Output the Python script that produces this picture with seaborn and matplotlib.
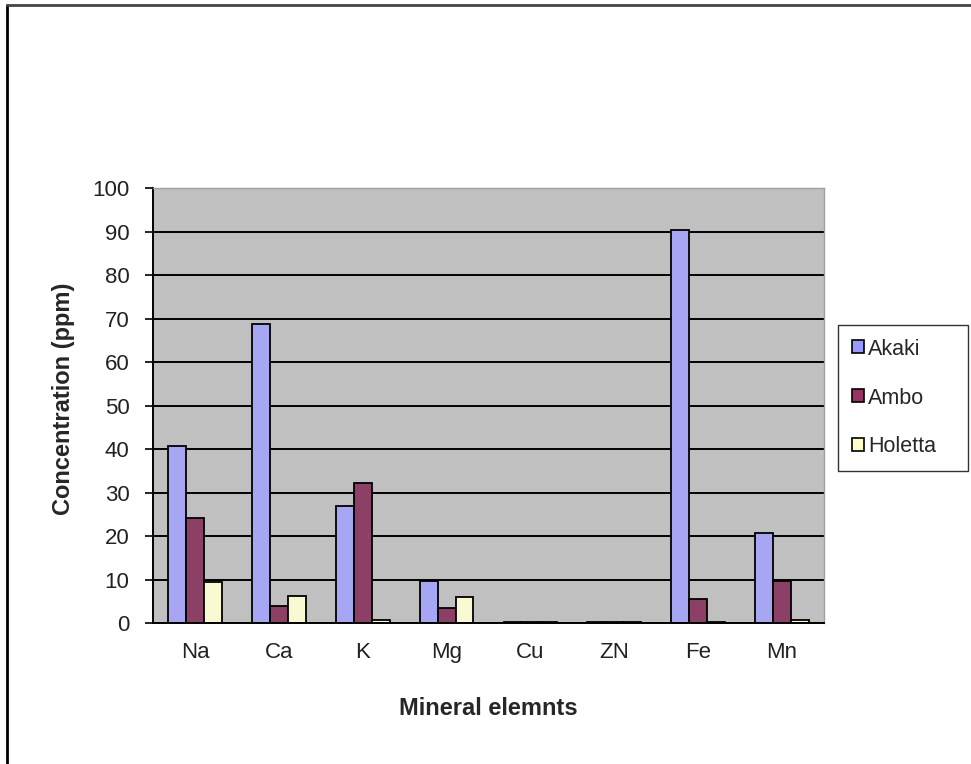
import matplotlib
matplotlib.use("Agg")
import matplotlib.pyplot as plt
import matplotlib.lines as mlines
import seaborn as sns
import pandas as pd
import numpy as np

# Mineral concentrations (ppm) by sampling site
elements = ["Na", "Ca", "K", "Mg", "Cu", "ZN", "Fe", "Mn"]
akaki = [40.7, 68.7, 26.9, 9.6, 0.2, 0.2, 90.3, 20.6]
ambo = [24.1, 3.9, 32.2, 3.5, 0.2, 0.2, 5.5, 9.6]
holetta = [9.5, 6.2, 0.6, 6.0, 0.2, 0.2, 0.3, 0.7]
sites = ["Akaki", "Ambo", "Holetta"]
site_colors = {"Akaki": "#9999FF", "Ambo": "#993366", "Holetta": "#FFFFCC"}
y_ticks = [0, 10, 20, 30, 40, 50, 60, 70, 80, 90, 100]

df = pd.DataFrame({
    "Element": elements * 3,
    "Site": ["Akaki"] * len(elements) + ["Ambo"] * len(elements) + ["Holetta"] * len(elements),
    "Concentration": akaki + ambo + holetta,
})

sns.set_theme(style="white")
plt.rcParams["font.family"] = ["Liberation Sans", "DejaVu Sans"]

fig = plt.figure(figsize=(9.71, 7.64), dpi=100)
ax = fig.add_axes([153 / 971, 1 - 623 / 764, (824 - 153) / 971, (623 - 188) / 764])
ax.set_facecolor("#C0C0C0")

sns.barplot(
    data=df, x="Element", y="Concentration", hue="Site",
    order=elements, hue_order=sites, palette=site_colors,
    width=0.64, edgecolor="black", linewidth=1.3, ax=ax,
    legend=True,
)

ax.set_ylim(0, 100)
ax.set_xlim(-0.5, len(elements) - 0.5)
ax.set_yticks(y_ticks)
ax.set_yticklabels([str(v) for v in y_ticks], fontsize=16, color="#222222")
ax.yaxis.grid(True, color="black", linewidth=1.4)
ax.set_axisbelow(True)

# category labels at centres, tick marks at category boundaries
ax.set_xticks(range(len(elements)))
ax.set_xticklabels(elements, fontsize=16, color="#222222")
ax.tick_params(axis="x", which="major", length=0, pad=14)
ax.set_xticks(np.arange(-0.5, len(elements), 1.0), minor=True)
ax.tick_params(axis="x", which="minor", length=6, width=1.2, color="black", direction="out")
ax.tick_params(axis="y", which="major", length=6, width=1.2, color="black", direction="out", left=True, pad=11)

for side in ["left", "bottom"]:
    ax.spines[side].set_color("black")
    ax.spines[side].set_linewidth(1.4)
for side in ["top", "right"]:
    ax.spines[side].set_color("#A0A0A0")
    ax.spines[side].set_linewidth(1.0)

ax.set_xlabel("Mineral elemnts", fontsize=17, fontweight="bold", labelpad=24)
ax.set_ylabel("Concentration (ppm)", fontsize=17, fontweight="bold")
ax.yaxis.set_label_coords((75 - 153) / 671, (623 - 398.5) / 435)

ax.get_legend().remove()
handles = [plt.Rectangle((0, 0), 1, 1, facecolor=site_colors[s], edgecolor="black", linewidth=1.2) for s in sites]
leg = fig.legend(
    handles, sites, loc="center left",
    bbox_to_anchor=(838 / 971, 1 - 469 / 764, 130 / 971, 142 / 764), mode="expand",
    frameon=True, fancybox=False, fontsize=15.5, labelspacing=1.3,
    handlelength=0.55, handleheight=0.55, handletextpad=0.2, borderpad=0.65,
    borderaxespad=0,
)
leg.get_frame().set_edgecolor("black")
leg.get_frame().set_linewidth(1.0)

# outer chart frame
fig.add_artist(mlines.Line2D([7 / 971, 7 / 971], [0, 1 - 5 / 764], color="black", linewidth=2.0, transform=fig.transFigure))
fig.add_artist(mlines.Line2D([7 / 971, 1], [1 - 5 / 764, 1 - 5 / 764], color="#444444", linewidth=2.0, transform=fig.transFigure))

fig.savefig("out.png", dpi=100)
